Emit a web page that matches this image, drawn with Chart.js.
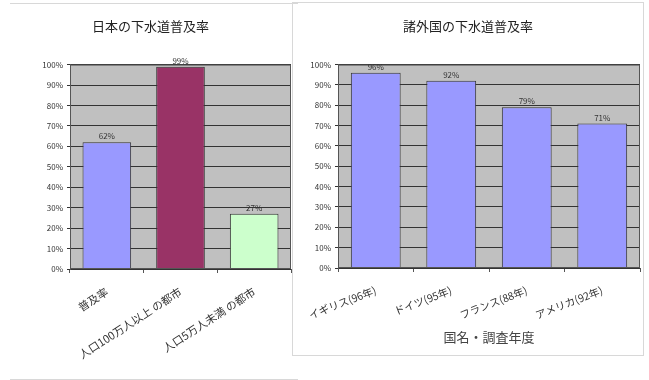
<!DOCTYPE html>
<html>
<head>
<meta charset="utf-8">
<script src="https://cdn.jsdelivr.net/npm/chart.js@4"></script>
<style>
  body { margin: 0; background: #fff; width: 649px; height: 380px; position: relative; overflow: hidden; }
  canvas { position: absolute; }
  .line { position: absolute; background: #d8d8d8; }
</style>
</head>
<body>
<div class="line" style="left:10px;top:3px;width:288px;height:1px"></div>
<div class="line" style="left:10px;top:379px;width:288px;height:1px"></div>
<div class="line" style="left:292px;top:2px;width:351px;height:1px"></div>
<div class="line" style="left:292px;top:355px;width:351px;height:1px"></div>
<div class="line" style="left:292px;top:2px;width:1px;height:353px"></div>
<div class="line" style="left:643px;top:2px;width:1px;height:354px"></div>
<canvas id="japan" width="288" height="377" style="left:10px;top:3px"></canvas>
<canvas id="world" width="347" height="353" style="left:296px;top:2px"></canvas>
<script>
const jpLabels = ["普及率", "人口100万人以上 の都市", "人口5万人未満 の都市"];
const jpValues = [62, 99, 27];
const jpColors = ["#9999FF", "#993366", "#CCFFCC"];

const worldLabels = ["イギリス(96年)", "ドイツ(95年)", "フランス(88年)", "アメリカ(92年)"];
const worldValues = [96, 92, 79, 71];

const FONT = "'Noto Sans CJK JP', 'DejaVu Sans', sans-serif";

// gray plot area + frame
const plotBg = {
  id: "plotBg",
  beforeDraw(chart) {
    const { ctx, chartArea: a } = chart;
    ctx.save();
    ctx.fillStyle = "#C0C0C0";
    ctx.fillRect(a.left, a.top, a.right - a.left, a.bottom - a.top);
    ctx.restore();
  },
  afterDatasetsDraw(chart) {
    const { ctx, chartArea: a } = chart;
    ctx.save();
    ctx.strokeStyle = "#555";
    ctx.lineWidth = 1;
    ctx.strokeRect(a.left + 0.5, a.top + 0.5, a.right - a.left - 1, a.bottom - a.top - 1);
    ctx.restore();
  },
};

// value labels above the bars
const valueLabels = {
  id: "valueLabels",
  afterDatasetsDraw(chart) {
    const { ctx } = chart;
    ctx.save();
    ctx.font = "8px " + FONT;
    ctx.fillStyle = "#333";
    ctx.textAlign = "center";
    ctx.textBaseline = "bottom";
    chart.getDatasetMeta(0).data.forEach((bar, i) => {
      ctx.fillText(chart.data.datasets[0].data[i] + "%", bar.x, bar.y - 2);
    });
    ctx.restore();
  },
};

function makeChart(id, labels, values, colors, opts) {
  return new Chart(document.getElementById(id), {
    type: "bar",
    data: {
      labels: labels,
      datasets: [{
        data: values,
        backgroundColor: colors,
        borderColor: "#333",
        borderWidth: 1,
        barPercentage: 0.66,
        categoryPercentage: 1,
      }],
    },
    options: {
      responsive: false,
      animation: false,
      layout: { padding: { right: opts.padRight, left: 0, top: 0, bottom: 0 } },
      plugins: {
        legend: { display: false },
        tooltip: { enabled: false },
        title: {
          display: true,
          text: opts.title,
          color: "#222",
          font: { family: FONT, size: 13, weight: "normal" },
          padding: { top: opts.titleTop, bottom: opts.titleBottom },
        },
      },
      scales: {
        x: {
          grid: { display: true, drawOnChartArea: false, offset: true, tickLength: 4, color: "#555" },
          border: { display: false },
          ticks: {
            color: "#333",
            font: { family: FONT, size: opts.tickSize },
            minRotation: opts.rotation,
            maxRotation: opts.rotation,
            autoSkip: false,
            padding: 12,
          },
          title: opts.xTitle
            ? { display: true, text: opts.xTitle, color: "#444", font: { family: FONT, size: 13 }, padding: { top: 2, bottom: 10 } }
            : { display: false },
          afterFit(scale) {
            scale.height = opts.xHeight;
            // rotated labels may hang past the y axis; don't let them push the plot
            scale.paddingLeft = 0;
            scale.paddingRight = 0;
          },
        },
        y: {
          min: 0,
          max: 100,
          ticks: {
            stepSize: 10,
            color: "#333",
            font: { family: FONT, size: 8 },
            padding: 4,
            callback: (v) => v + "%",
          },
          grid: { color: "#333", tickLength: 3 },
          border: { color: "#555" },
          afterFit(scale) { scale.width = opts.yWidth; },
        },
      },
    },
    plugins: [plotBg, valueLabels],
  });
}

makeChart("japan", jpLabels, jpValues, jpColors, {
  title: "日本の下水道普及率",
  titleTop: 15, titleBottom: 31,
  rotation: 33, tickSize: 11, xHeight: 111, yWidth: 60, padRight: 7,
});

makeChart("world", worldLabels, worldValues, "#9999FF", {
  title: "諸外国の下水道普及率",
  titleTop: 16, titleBottom: 31,
  rotation: 21, tickSize: 10.5, xHeight: 87, yWidth: 42, padRight: 3,
  xTitle: "国名・調査年度",
});
</script>
</body>
</html>
